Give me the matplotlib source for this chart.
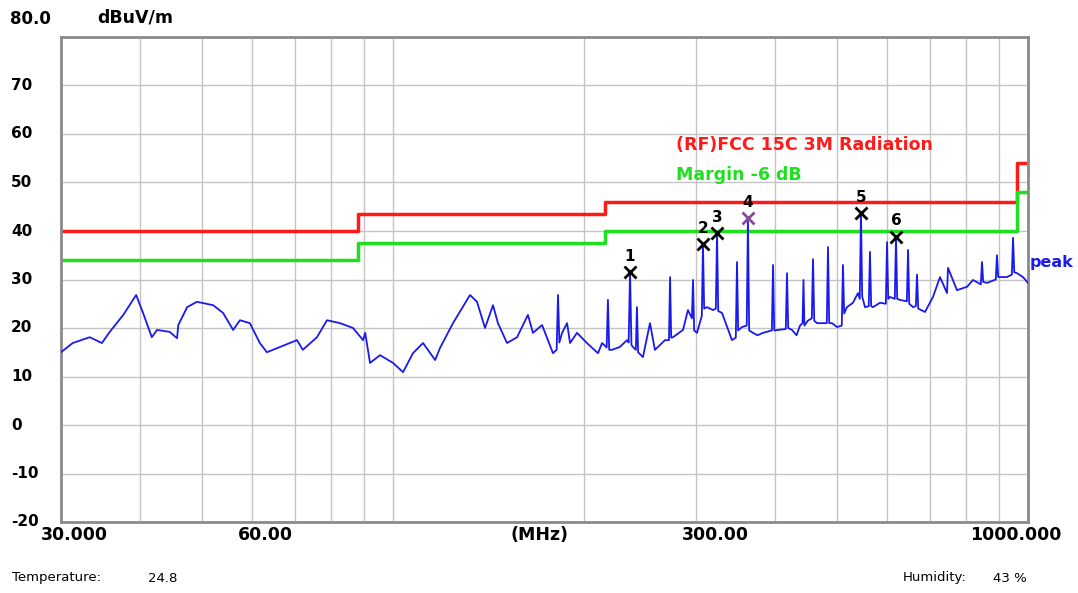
import matplotlib
matplotlib.use("Agg")
import matplotlib.pyplot as plt
from matplotlib.transforms import blended_transform_factory

# peak trace (MHz, dBuV/m)
freq = [30.0, 31.3, 33.3, 34.8, 35.8, 37.6, 39.4, 40.4, 41.7, 42.5,
        44.5, 45.7, 45.9, 47.4, 49.1, 52.1, 54.0, 56.0, 57.4, 59.5,
        61.7, 63.3, 66.4, 70.6, 72.1, 75.9, 78.7, 82.5, 86.5, 89.7,
        90.4, 92.0, 95.4, 100.0, 103.7, 107.5, 111.5, 116.5, 118.6, 124.3,
        132.2, 135.6, 139.6, 143.7, 146.3, 151.2, 156.8, 163.1, 166.1, 171.7,
        178.6, 181.0, 181.9, 182.8, 184.6, 188.0, 190.0, 194.9, 202.0, 210.3,
        213.4, 217.0, 218.0, 219.0, 221.2, 227.7, 233.6, 235.0, 236.2, 237.4,
        238.7, 241.2, 242.2, 243.2, 247.5, 253.9, 258.5, 268.1, 272.0, 273.1,
        274.2, 276.0, 286.2, 291.4, 295.6, 296.8, 298.0, 301.1, 306.4, 307.7,
        309.0, 312.2, 319.1, 322.4, 323.8, 325.2, 329.7, 341.8, 346.6, 348.1,
        349.6, 354.5, 360.6, 362.2, 363.8, 368.9, 375.0, 382.5, 395.0, 396.7,
        398.4, 403.9, 415.5, 417.3, 419.1, 425.0, 432.0, 437.5, 441.5, 443.0,
        444.5, 450.0, 456.6, 458.6, 460.6, 465.3, 475.5, 482.1, 484.2, 486.3,
        491.3, 500.2, 509.0, 511.2, 513.4, 518.6, 530.0, 539.8, 543.3, 545.7,
        548.1, 553.7, 561.3, 563.8, 566.3, 569.9, 584.7, 597.2, 599.8, 602.4,
        606.4, 616.9, 619.6, 622.3, 628.7, 644.5, 647.3, 650.1, 659.1, 665.8,
        668.7, 671.6, 688.3, 708.5, 726.8, 745.5, 748.2, 772.9, 801.6, 819.2,
        842.7, 846.4, 850.1, 861.9, 889.7, 893.6, 897.5, 903.3, 926.5, 943.1,
        947.2, 951.3, 961.0, 982.0, 1000.0]
level = [15.0, 16.9, 18.1, 16.9, 19.2, 22.7, 26.8, 23.1, 18.1, 19.6,
         19.2, 17.9, 20.6, 24.3, 25.4, 24.7, 23.1, 19.6, 21.6, 21.0,
         16.9, 15.0, 16.1, 17.5, 15.5, 18.1, 21.6, 21.0, 20.0, 17.5,
         19.0, 12.8, 14.4, 12.8, 10.9, 14.8, 16.9, 13.4, 15.9, 21.0,
         26.8, 25.4, 20.0, 24.7, 21.0, 16.9, 18.1, 22.7, 19.0, 20.6,
         14.8, 15.5, 26.8, 17.0, 19.0, 21.0, 16.9, 19.0, 16.9, 14.8,
         16.9, 16.0, 25.8, 15.5, 15.5, 16.1, 17.5, 17.0, 31.5, 16.5,
         16.1, 15.5, 24.3, 15.0, 14.0, 21.0, 15.5, 17.5, 17.5, 30.5,
         18.0, 18.1, 19.6, 23.7, 22.0, 29.9, 19.5, 19.0, 22.5, 37.3,
         24.0, 24.3, 23.7, 24.0, 39.6, 23.5, 23.1, 17.5, 18.0, 33.6,
         19.5, 20.2, 20.5, 42.7, 19.5, 19.0, 18.5, 19.0, 19.5, 33.0,
         19.5, 19.6, 19.8, 31.3, 20.0, 19.6, 18.5, 20.5, 21.0, 29.9,
         20.5, 21.5, 22.0, 34.2, 21.5, 21.0, 21.0, 21.0, 36.7, 21.0,
         21.0, 20.2, 20.5, 33.0, 23.0, 24.3, 25.2, 27.2, 26.0, 43.7,
         26.5, 24.3, 24.5, 35.7, 24.5, 24.3, 25.2, 25.0, 37.7, 26.0,
         26.4, 26.0, 38.8, 26.0, 25.8, 25.5, 36.1, 25.0, 24.3, 24.5,
         31.0, 24.0, 23.3, 26.4, 30.5, 27.2, 32.4, 27.8, 28.5, 29.9,
         29.0, 33.6, 29.5, 29.3, 30.0, 35.0, 30.5, 30.5, 30.5, 31.0,
         38.6, 31.5, 31.3, 30.5, 29.3]

# FCC 15C 3 m limit and the -6 dB margin
limit_freq = [30, 88, 88, 216, 216, 960, 960, 1000]
limit_level = [40, 40, 43.5, 43.5, 46, 46, 54, 54]
margin_db = 6

# marked peaks
marker_freq = [236.2, 307.7, 323.8, 362.2, 545.7, 619.6]
marker_level = [31.5, 37.3, 39.6, 42.7, 43.7, 38.8]
marker_names = ["1", "2", "3", "4", "5", "6"]

y_ticks = [70, 60, 50, 40, 30, 20, 10, 0, -10, -20]
x_grid = [40, 50, 60, 70, 80, 90, 100, 200, 300, 400, 500, 600, 700, 800, 900]

fig = plt.figure(figsize=(10.78, 5.93), dpi=100)
ax = fig.add_axes([61/1078, 1-522/593, 967/1078, 485/593])
ax.set_xscale("log")
ax.set_xlim(30, 1000)
ax.set_ylim(-20, 80)
ax.set_xticks([])
ax.set_yticks([])
ax.minorticks_off()

for g in x_grid:
    ax.axvline(g, color="#c4c4c4", lw=1, zorder=0)
for t in y_ticks[:-1]:
    ax.axhline(t, color="#c4c4c4", lw=1, zorder=0)

for s in ax.spines.values():
    s.set_color("#8a8a8a")
    s.set_linewidth(2)

red = "#ff1a1a"
green = "#1ee01e"
blue = "#1a1aee"

ax.plot(limit_freq, limit_level, color=red, lw=2.5, zorder=2)
ax.plot(limit_freq, [v - margin_db for v in limit_level], color=green, lw=2.5, zorder=2)
ax.plot(freq, level, color=blue, lw=1.3, zorder=3)

for f, v, n in zip(marker_freq, marker_level, marker_names):
    c = "#8a4a9a" if n == "4" else "black"
    ax.plot(f, v, marker="x", ms=9, mew=2, color=c, ls="none", zorder=5)
    ax.annotate(n, (f, v), xytext=(0, 6), textcoords="offset points",
                ha="center", va="bottom", fontsize=11, fontweight="bold", zorder=6)

bold = dict(fontsize=12.5, fontweight="bold")
fig.text(676/1078, 1-145/593, "(RF)FCC 15C 3M Radiation", color=red, va="center", **bold)
fig.text(676/1078, 1-175/593, "Margin -6 dB", color=green, va="center", **bold)
fig.text(1030/1078, 1-262/593, "peak", color=blue, va="center", fontsize=11.5, fontweight="bold")

# y tick labels, left aligned at the figure edge
ytr = blended_transform_factory(fig.transFigure, ax.transData)
for t in y_ticks:
    ax.text(11/1078, t, str(t), transform=ytr, ha="left", va="center",
            fontsize=11, fontweight="bold")
fig.text(10/1078, 1-19/593, "80.0", ha="left", va="center", fontsize=12, fontweight="bold")
fig.text(97/1078, 1-18/593, "dBuV/m", ha="left", va="center", fontsize=12.5, fontweight="bold")

# x labels
xl_y = 1-535/593
xb = dict(ha="center", va="center", fontsize=12.5, fontweight="bold")
fig.text(74/1078, xl_y, "30.000", **xb)
fig.text(265/1078, xl_y, "60.00", **xb)
fig.text(540/1078, xl_y, "(MHz)", **xb)
fig.text(715/1078, xl_y, "300.00", **xb)
fig.text(1016/1078, xl_y, "1000.000", **xb)

fig.text(12/1078, 1-578/593, "Temperature:", fontsize=9.5, va="center")
fig.text(148/1078, 1-578/593, "24.8", fontsize=9.5, va="center")
fig.text(903/1078, 1-578/593, "Humidity:", fontsize=9.5, va="center")
fig.text(993/1078, 1-578/593, "43 %", fontsize=9.5, va="center")

fig.savefig("out.png", dpi=100)
